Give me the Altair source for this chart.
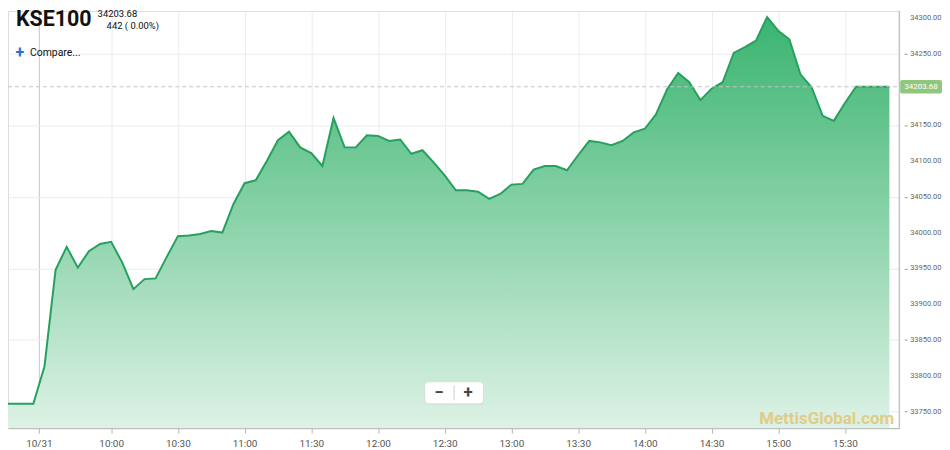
import altair as alt
import pandas as pd

# ---- data ----
minutes = [550, 555, 560, 565, 570, 575, 580, 585, 590, 595, 600, 605, 610, 615, 620, 625,
           630, 635, 640, 645, 650, 655, 660, 665, 670, 675, 680, 685, 690, 695, 700, 705,
           710, 715, 720, 725, 730, 735, 740, 745, 750, 755, 760, 765, 770, 775, 780, 785,
           790, 795, 800, 805, 810, 815, 820, 825, 830, 835, 840, 845, 850, 855, 860, 865,
           870, 875, 880, 885, 890, 895, 900, 905, 910, 915, 920, 925, 930, 935, 940, 945, 950]
values = [33761, 33761, 33761, 33761, 33813, 33948, 33980, 33951, 33974, 33984, 33987, 33958,
          33921, 33935, 33936, 33966, 33995, 33996, 33998, 34002, 34000, 34040, 34069, 34073,
          34100, 34129, 34141, 34119, 34111, 34093, 34160, 34119, 34119, 34136, 34135, 34128,
          34130, 34110, 34115, 34098, 34080, 34059, 34059, 34057, 34047, 34054, 34067, 34068,
          34088, 34093, 34093, 34087, 34108, 34128, 34126, 34122, 34128, 34140, 34145, 34165,
          34200, 34223, 34210, 34185, 34201, 34210, 34251, 34259, 34268, 34301, 34282, 34270,
          34221, 34203, 34163, 34156, 34181, 34203.68, 34203.68, 34203.68, 34203.68]
x_ticks = [567.5, 600, 630, 660, 690, 720, 750, 780, 810, 840, 870, 900, 930]
x_tick_labels = ["10/31", "10:00", "10:30", "11:00", "11:30", "12:00", "12:30",
                 "13:00", "13:30", "14:00", "14:30", "15:00", "15:30"]
y_ticks = [33750, 33800, 33850, 33900, 33950, 34000, 34050, 34100, 34150, 34200, 34250, 34300]
y_domain = [33726.8, 34309.6]
last_value = 34203.68
symbol = "KSE100"
change_text = "442 ( 0.00%)"

df = pd.DataFrame({"t": minutes, "v": values})
ydf = pd.DataFrame({"v": y_ticks, "lbl": ["%.2f" % v for v in y_ticks]})

W, H = 895, 419
FONT = "Roboto"
GREEN = "#27a05f"

label_expr = "{}[indexof({}, datum.value)]".format(
    "[" + ",".join("'%s'" % s for s in x_tick_labels) + "]",
    "[" + ",".join(str(v) for v in x_ticks) + "]")

x_enc = alt.X("t:Q",
              scale=alt.Scale(domain=[553.6, 954.4], nice=False, zero=False),
              axis=alt.Axis(values=x_ticks, labelExpr=label_expr, title=None,
                            grid=True,
                            gridColor={"condition": {"test": "datum.value == 567.5", "value": "#c8c8c8"},
                                       "value": "#ececec"},
                            domainColor="#b5b5b5", tickColor="#b5b5b5", tickSize=5,
                            labelFontSize=10, labelColor="#555", labelPadding=5,
                            labelFont=FONT, labelFlush=False))
y_enc = alt.Y("v:Q",
              scale=alt.Scale(domain=y_domain, nice=False, zero=False),
              axis=alt.Axis(orient="right", values=y_ticks, title=None, labels=False,
                            domain=False, offset=5, tickSize=3, tickColor="#999",
                            gridColor="#ececec"))

grad = alt.Gradient(gradient="linear",
                    stops=[alt.GradientStop(color="#3ab46f", offset=0),
                           alt.GradientStop(color="#ddf2e6", offset=1)],
                    x1=0, x2=0, y1=0, y2=1)

base = alt.Chart(df)
area = base.mark_area(color=grad, clip=True).encode(
    x=x_enc, y=y_enc, y2=alt.Y2(datum=y_domain[0]))
line = base.mark_line(color=GREEN, strokeWidth=2, clip=True).encode(x="t:Q", y="v:Q")

ylabels = alt.Chart(ydf).mark_text(align="left", baseline="middle", fontSize=7.5, font=FONT,
                                   color="#666").encode(
    y="v:Q", x=alt.value(W + 11), text="lbl:N")

lastdf = pd.DataFrame({"v": [last_value], "lbl": ["%.2f" % last_value],
                       "lo": [last_value - 9.5], "hi": [last_value + 9.5]})
cur_rule = alt.Chart(lastdf).mark_rule(color="#c4c4c4", strokeDash=[4, 3], strokeWidth=1,
                                       clip=True).encode(
    y="v:Q", x=alt.value(0), x2=alt.value(W))
tag = alt.Chart(lastdf).mark_rect(color="#8fc77f", cornerRadius=2).encode(
    y="lo:Q", y2="hi:Q", x=alt.value(W + 1), x2=alt.value(W + 43))
tag_text = alt.Chart(lastdf).mark_text(color="white", fontSize=8, font=FONT, align="center",
                                       baseline="middle").encode(
    y="v:Q", x=alt.value(W + 22), text="lbl:N")

one = pd.DataFrame({"a": [0]})


def txt(s, x, y, **kw):
    return alt.Chart(one).mark_text(**kw).encode(
        x=alt.value(x), y=alt.value(y), text=alt.value(s))


border = alt.Chart(one).mark_rule(color="#b5b5b5").encode(
    x=alt.value(W), y=alt.value(0), y2=alt.value(H))

title = txt(symbol, 8, 9, font=FONT, fontSize=21.5, fontWeight="bold", color="#111",
            align="left", baseline="middle")
sub1 = txt("%.2f" % last_value, 90, 3, font=FONT, fontSize=9.5, color="#111", align="left",
           baseline="middle")
sub2 = txt(change_text, 99, 15, font=FONT, fontSize=9.5, color="#111", align="left",
           baseline="middle")
plus = txt("+", 12, 42, font=FONT, fontSize=16, fontWeight="bold", color="#2f6fc9",
           align="center", baseline="middle")
compare = txt("Compare...", 22, 42, font=FONT, fontSize=10.5, color="#111", align="left",
              baseline="middle")

zshadow = alt.Chart(one).mark_rect(fill="#dcdcdc", cornerRadius=3, opacity=0.6).encode(
    x=alt.value(418), x2=alt.value(478), y=alt.value(373), y2=alt.value(396))
zbox = alt.Chart(one).mark_rect(fill="white", cornerRadius=3).encode(
    x=alt.value(419), x2=alt.value(477), y=alt.value(373), y2=alt.value(394))
zsep = alt.Chart(one).mark_rule(color="#d0d0d0").encode(
    x=alt.value(448), y=alt.value(376), y2=alt.value(391))
zminus = txt("\u2212", 433, 384, font=FONT, fontSize=17, fontWeight="bold", color="#444",
             align="center", baseline="middle")
zplus = txt("+", 462, 384, font=FONT, fontSize=17, fontWeight="bold", color="#444",
            align="center", baseline="middle")

watermark = txt("MettisGlobal.com", 890, 410, font=FONT, fontSize=17, fontWeight="bold",
                color="#e2c97e", opacity=0.9, align="right", baseline="middle")

chart = alt.layer(area, line, cur_rule, border, ylabels, tag, tag_text, title, sub1, sub2,
                  plus, compare, zshadow, zbox, zsep, zminus, zplus, watermark).properties(
    width=W, height=H, padding=0
).configure_view(stroke=None).configure(background="white")

chart.save("out.html", embed_options={"renderer": "svg", "actions": False})
